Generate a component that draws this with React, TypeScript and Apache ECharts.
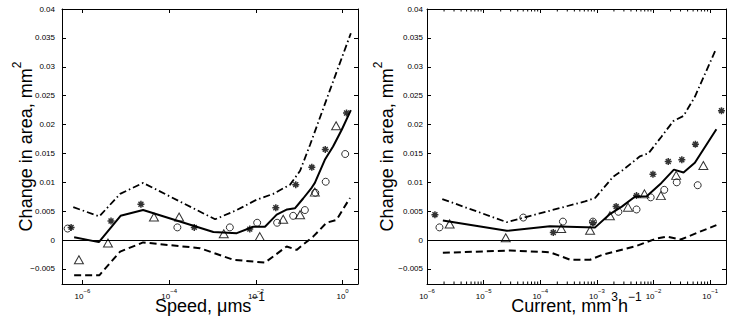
import React, { useEffect, useRef } from 'react';
import * as echarts from 'echarts';

// ---------- left panel: change in area vs speed (x stored as log10 of speed, µm s^-1) ----------
const leftSolidX = [-6.19, -5.62, -5.12, -4.6, -2.98, -2.44, -2.06, -1.79, -1.52, -1.28, -1.1, -0.91, -0.71, -0.64, -0.41, -0.22, -0.02, 0.19];
const leftSolidY = [0.0005, -0.00035, 0.0042, 0.0052, 0.0014, 0.0012, 0.0023, 0.0023, 0.0044, 0.0053, 0.0055, 0.0072, 0.0091, 0.0099, 0.0139, 0.0162, 0.0191, 0.0225];
const leftUpperX = [-6.21, -5.61, -5.13, -4.6, -2.94, -2.44, -1.98, -1.6, -1.21, -0.98, -0.75, -0.29, 0.19];
const leftUpperY = [0.0057, 0.0041, 0.008, 0.0099, 0.0036, 0.0052, 0.007, 0.008, 0.0096, 0.012, 0.0165, 0.026, 0.0358];
const leftLowerX = [-6.19, -5.61, -5.13, -4.6, -3.29, -2.52, -1.79, -1.29, -1.06, -0.68, -0.37, -0.14, 0.17];
const leftLowerY = [-0.0061, -0.0061, -0.002, -0.0004, -0.0014, -0.0034, -0.0039, -0.0011, -0.0017, 0.0006, 0.003, 0.0035, 0.0073];
const leftCircleX = [-6.34, -3.81, -2.6, -1.97, -1.51, -1.14, -0.87, -0.63, -0.39, 0.06];
const leftCircleY = [0.002, 0.0022, 0.0022, 0.003, 0.003, 0.0042, 0.0052, 0.0082, 0.0101, 0.0149];
const leftStarX = [-6.26, -5.34, -4.65, -3.42, -2.14, -1.54, -1.08, -0.71, -0.4, 0.09];
const leftStarY = [0.0022, 0.0033, 0.0062, 0.0022, 0.0019, 0.0056, 0.0096, 0.0126, 0.0157, 0.022];
const leftTriX = [-6.08, -5.41, -4.35, -3.77, -2.74, -1.91, -1.37, -0.98, -0.64, -0.15];
const leftTriY = [-0.0034, -0.0005, 0.004, 0.004, 0.0011, 0.0006, 0.0036, 0.0044, 0.0083, 0.0198];

// ---------- right panel: change in area vs current (x stored as log10 of current, mm^3 h^-1) ----------
const rightSolidX = [-5.72, -4.59, -3.83, -3.03, -2.77, -2.56, -2.33, -2.12, -1.86, -1.64, -1.47, -1.27, -0.89];
const rightSolidY = [0.0034, 0.0016, 0.0024, 0.0022, 0.0045, 0.0058, 0.0075, 0.0076, 0.0099, 0.0122, 0.0117, 0.0134, 0.0192];
const rightUpperX = [-5.73, -4.59, -3.21, -3.03, -2.71, -2.53, -2.24, -2.09, -1.86, -1.65, -1.47, -1.27, -0.89];
const rightUpperY = [0.0071, 0.0031, 0.0067, 0.0073, 0.011, 0.0122, 0.0145, 0.015, 0.0179, 0.0206, 0.0215, 0.0248, 0.0332];
const rightLowerX = [-5.72, -4.53, -3.83, -3.47, -3.12, -2.89, -2.3, -1.94, -1.77, -1.52, -0.89];
const rightLowerY = [-0.0022, -0.0018, -0.0021, -0.0034, -0.0034, -0.0025, -0.001, 0.0003, 0.0006, 0.0001, 0.0026];
const rightCircleX = [-5.78, -4.3, -3.6, -3.07, -2.62, -2.3, -2.05, -1.81, -1.59, -1.22];
const rightCircleY = [0.0022, 0.0039, 0.0032, 0.0032, 0.0049, 0.0053, 0.0074, 0.0087, 0.01, 0.0095];
const rightStarX = [-5.86, -3.77, -3.07, -2.66, -2.3, -2.01, -1.74, -1.5, -1.26, -0.8];
const rightStarY = [0.0044, 0.0013, 0.003, 0.0058, 0.0077, 0.0114, 0.0136, 0.0139, 0.0166, 0.0224];
const rightTriX = [-5.6, -4.61, -3.63, -3.12, -2.77, -2.45, -2.16, -1.87, -1.6, -1.12];
const rightTriY = [0.0028, 0.0004, 0.002, 0.0017, 0.0042, 0.0057, 0.008, 0.0077, 0.0112, 0.0129];

// axis ranges (x in log10 units)
const leftXRange = [-6.47, 0.355];
const rightXRange = [-6, -0.72];
const yRange = [-0.0076, 0.04];
const minorDecades = [-6, -5, -4, -3, -2, -1];
const minorMultipliers = [2, 3, 4, 5, 6, 7, 8, 9];

const FONT = 'Liberation Sans, Arial, Helvetica, sans-serif';

const pairs = (xs: number[], ys: number[]) => xs.map((x, i) => [x, ys[i]]);

const starPath = 'path://M5 0 L5 10 M0 5 L10 5 M1.5 1.5 L8.5 8.5 M1.5 8.5 L8.5 1.5';

export default function App() {
  const ref = useRef<HTMLDivElement>(null);
  useEffect(() => {
    const chart = echarts.init(ref.current!, null, { renderer: 'svg' });

    const yLabel = (v: number) => {
      if (Math.abs(v) < 1e-12) return '0';
      const s = String(+Math.abs(v).toFixed(4));
      return v < 0 ? '\u2212' + s : s;
    };
    const xLabel = (v: number) => {
      const e = Math.round(v);
      if (Math.abs(v - e) > 1e-6) return '';
      return `{b|10}{s|${e < 0 ? '\u2212' : ''}${Math.abs(e)}}`;
    };
    const tickRich = {
      b: { fontSize: 8, lineHeight: 12, verticalAlign: 'bottom', fontFamily: FONT, color: '#000' },
      s: { fontSize: 6, lineHeight: 6, verticalAlign: 'top', fontFamily: FONT, color: '#000' },
    };
    const nameRich = {
      t: { fontSize: 18, lineHeight: 24, verticalAlign: 'bottom', fontFamily: FONT, color: '#000' },
      s: { fontSize: 12, lineHeight: 12, verticalAlign: 'top', fontFamily: FONT, color: '#000' },
    };
    const axisLine = { show: true, onZero: false, lineStyle: { color: '#000', width: 1 } };
    const axisTick = { show: true, inside: true, length: 4, lineStyle: { color: '#000', width: 1 } };

    const xAxes: any[] = [];
    const yAxes: any[] = [];
    const mkX = (gi: number, range: number[], splitNumber: number, name: string) => {
      xAxes.push({
        type: 'value', gridIndex: gi, min: range[0], max: range[1], splitNumber, position: 'bottom',
        axisLine, axisTick, splitLine: { show: false },
        axisLabel: { formatter: xLabel, margin: 4, rich: tickRich, color: '#000', fontFamily: FONT, hideOverlap: false },
        name, nameLocation: 'middle', nameGap: 7, nameMoveOverlap: false,
        nameTextStyle: { fontFamily: FONT, color: '#000', verticalAlign: 'top', rich: nameRich },
      });
      xAxes.push({
        type: 'value', gridIndex: gi, min: range[0], max: range[1], splitNumber, position: 'top',
        axisLine, axisTick, splitLine: { show: false }, axisLabel: { show: false },
      });
    };
    const mkY = (gi: number, nameGap: number, labelMargin: number) => {
      yAxes.push({
        type: 'value', gridIndex: gi, min: yRange[0], max: yRange[1], splitNumber: 10, position: 'left',
        axisLine, axisTick, splitLine: { show: false },
        axisLabel: { formatter: yLabel, margin: labelMargin, fontSize: 8, color: '#000', fontFamily: FONT, showMinLabel: false },
        name: '{t|Change in area, mm}{s|2}', nameLocation: 'middle', nameGap, nameMoveOverlap: false,
        nameTextStyle: { fontFamily: FONT, color: '#000', rich: nameRich },
      });
      yAxes.push({
        type: 'value', gridIndex: gi, min: yRange[0], max: yRange[1], splitNumber: 10, position: 'right',
        axisLine, axisTick, splitLine: { show: false }, axisLabel: { show: false },
      });
    };
    mkX(0, leftXRange, 3, '{t|Speed, \u03bcms}{s|\u22121}');
    mkX(1, rightXRange, 5, '{t|Current, mm}{s|3}{t|h}{s|\u22121}');
    mkY(0, 27, 7);
    mkY(1, 31, 4);

    const series: any[] = [];
    const addPanel = (
      xi: number, yi: number,
      solid: number[][], upper: number[][], lower: number[][],
      circ: number[][], star: number[][], tri: number[][],
    ) => {
      const lineBase = { type: 'line', xAxisIndex: xi, yAxisIndex: yi, symbol: 'none', showSymbol: false, silent: true };
      series.push({
        ...lineBase, data: solid, z: 3,
        lineStyle: { color: '#000', width: 2 },
        markLine: {
          silent: true, symbol: ['none', 'none'], label: { show: false },
          lineStyle: { color: '#000', width: 1, type: 'solid' },
          data: [{ yAxis: 0 }],
        },
      });
      series.push({ ...lineBase, data: upper, z: 3, lineStyle: { color: '#000', width: 1.8, type: [7, 3, 1.5, 3] } });
      series.push({ ...lineBase, data: lower, z: 3, lineStyle: { color: '#000', width: 2, type: [7, 4] } });
      const hollow = { color: 'rgba(0,0,0,0)', borderColor: '#000', borderWidth: 1 };
      series.push({ type: 'scatter', xAxisIndex: xi, yAxisIndex: yi, data: circ, symbol: 'circle', symbolSize: 7, itemStyle: hollow, z: 4, silent: true });
      series.push({ type: 'scatter', xAxisIndex: xi, yAxisIndex: yi, data: tri, symbol: 'triangle', symbolSize: [9, 8], itemStyle: hollow, z: 4, silent: true });
      series.push({
        type: 'scatter', xAxisIndex: xi, yAxisIndex: yi, data: star, symbol: starPath, symbolSize: 7,
        itemStyle: { color: 'rgba(0,0,0,0)', borderColor: '#000', borderWidth: 1.5 }, z: 4, silent: true,
      });
    };
    addPanel(0, 0,
      pairs(leftSolidX, leftSolidY), pairs(leftUpperX, leftUpperY), pairs(leftLowerX, leftLowerY),
      pairs(leftCircleX, leftCircleY), pairs(leftStarX, leftStarY), pairs(leftTriX, leftTriY));
    addPanel(2, 2,
      pairs(rightSolidX, rightSolidY), pairs(rightUpperX, rightUpperY), pairs(rightLowerX, rightLowerY),
      pairs(rightCircleX, rightCircleY), pairs(rightStarX, rightStarY), pairs(rightTriX, rightTriY));

    // minor log ticks on the right panel (bottom and top edges)
    const minor: number[][] = [];
    minorDecades.forEach((d) => minorMultipliers.forEach((k) => {
      const v = d + Math.log10(k);
      if (v < rightXRange[1]) minor.push([v, 0]);
    }));
    series.push({
      type: 'custom', xAxisIndex: 2, yAxisIndex: 2, data: minor, silent: true, clip: false,
      encode: { x: 0, y: 1 },
      renderItem: (_p: any, api: any) => {
        const x = api.value(0);
        const b = api.coord([x, yRange[0]]);
        const t = api.coord([x, yRange[1]]);
        return {
          type: 'group', children: [
            { type: 'line', shape: { x1: b[0], y1: b[1], x2: b[0], y2: b[1] - 2.5 }, style: { stroke: '#000', lineWidth: 1 } },
            { type: 'line', shape: { x1: t[0], y1: t[1], x2: t[0], y2: t[1] + 2.5 }, style: { stroke: '#000', lineWidth: 1 } },
          ],
        };
      },
    });

    chart.setOption({
      animation: false,
      backgroundColor: '#fff',
      textStyle: { fontFamily: FONT },
      grid: [
        { left: 62, top: 9, width: 296, height: 275, containLabel: false, outerBoundsMode: 'none' },
        { left: 427, top: 9, width: 299, height: 275, containLabel: false, outerBoundsMode: 'none' },
      ],
      xAxis: xAxes,
      yAxis: yAxes,
      series,
    });
    return () => chart.dispose();
  }, []);
  return <div ref={ref} style={{ position: 'fixed', left: 0, top: 0, width: 735, height: 321, background: '#fff' }} />;
}
